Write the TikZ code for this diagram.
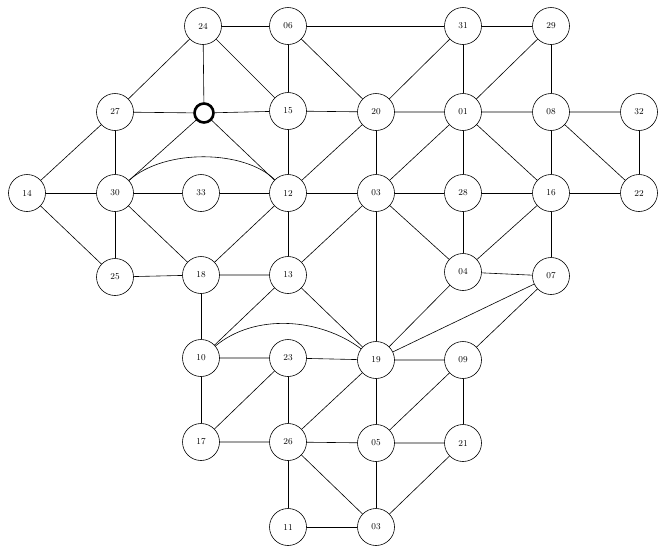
\documentclass[tikz,border=0pt]{standalone}
\begin{document}
\begin{tikzpicture}[x=1pt,y=-1pt,line width=0.6pt,
    vert/.style={draw,circle,minimum size=37pt,inner sep=0pt,font=\small},
    ring/.style={draw,circle,minimum size=19pt,inner sep=0pt,line width=2.6pt}]
    \useasboundingbox (0,0) rectangle (669,555);

    % Top row
    \node[vert] (n24) at (203,26) {24};
    \node[vert] (n06) at (288,26) {06};
    \node[vert] (n31) at (463,26) {31};
    \node[vert] (n29) at (551,26) {29};

    % Second row
    \node[vert] (n27) at (115,112) {27};
    \node[ring] (n00) at (204,113) {};
    \node[vert] (n15) at (288,111) {15};
    \node[vert] (n20) at (376,112) {20};
    \node[vert] (n01) at (463,112) {01};
    \node[vert] (n08) at (551,112) {08};
    \node[vert] (n32) at (639,112) {32};

    % Third row
    \node[vert] (n14) at (27,193) {14};
    \node[vert] (n30) at (115,193) {30};
    \node[vert] (n33) at (201,193) {33};
    \node[vert] (n12) at (288,193) {12};
    \node[vert] (n03) at (376,193) {03};
    \node[vert] (n28) at (463,193) {28};
    \node[vert] (n16) at (551,193) {16};
    \node[vert] (n22) at (639,193) {22};

    % Fourth row
    \node[vert] (n25) at (115,277) {25};
    \node[vert] (n18) at (201,275) {18};
    \node[vert] (n13) at (288,275) {13};
    \node[vert] (n04) at (463,272) {04};
    \node[vert] (n07) at (551,276) {07};

    % Fifth row
    \node[vert] (n10) at (201,358) {10};
    \node[vert] (n23) at (288,358) {23};
    \node[vert] (n19) at (376,360) {19};
    \node[vert] (n09) at (463,360) {09};

    % Sixth row
    \node[vert] (n17) at (201,442) {17};
    \node[vert] (n26) at (288,442) {26};
    \node[vert] (n05) at (376,443) {05};
    \node[vert] (n21) at (463,443) {21};

    % Bottom row
    \node[vert] (n11) at (288,527) {11};
    \node[vert] (n03b) at (376,527) {03};

    % Edges from the top
    \draw (n24) -- (n06) -- (n31) -- (n29);
    \draw (n24) -- (n27);
    \draw (n24) -- (n00);
    \draw (n24) -- (n15);
    \draw (n06) -- (n15);
    \draw (n06) -- (n20);
    \draw (n31) -- (n20);
    \draw (n31) -- (n01);
    \draw (n29) -- (n01);
    \draw (n29) -- (n08);

    % Edges from the second row
    \draw (n27) -- (n00) -- (n15) -- (n20) -- (n01) -- (n08) -- (n32);
    \draw (n27) -- (n14);
    \draw (n27) -- (n30);
    \draw (n00) -- (n30);
    \draw (n00) -- (n12);
    \draw (n15) -- (n12);
    \draw (n20) -- (n12);
    \draw (n20) -- (n03);
    \draw (n01) -- (n03);
    \draw (n01) -- (n28);
    \draw (n01) -- (n16);
    \draw (n08) -- (n16);
    \draw (n08) -- (n22);
    \draw (n32) -- (n22);

    % Edges from the third row
    \draw (n14) -- (n30) -- (n33) -- (n12) -- (n03) -- (n28) -- (n16) -- (n22);
    \draw (n30) .. controls (165,148) and (245,150) .. (n12);
    \draw (n14) -- (n25);
    \draw (n30) -- (n25);
    \draw (n30) -- (n18);
    \draw (n12) -- (n18);
    \draw (n12) -- (n13);
    \draw (n03) -- (n13);
    \draw (n03) -- (n19);
    \draw (n03) -- (n04);
    \draw (n28) -- (n04);
    \draw (n16) -- (n04);
    \draw (n16) -- (n07);

    % Edges from the fourth row
    \draw (n25) -- (n18) -- (n13);
    \draw (n04) -- (n07);
    \draw (n18) -- (n10);
    \draw (n13) -- (n10);
    \draw (n13) -- (n19);
    \draw (n04) -- (n19);
    \draw (n07) -- (n19);
    \draw (n07) -- (n09);

    % Edges from the fifth row
    \draw (n10) .. controls (255,313) and (320,318) .. (n19);
    \draw (n10) -- (n23) -- (n19) -- (n09);
    \draw (n10) -- (n17);
    \draw (n23) -- (n17);
    \draw (n23) -- (n26);
    \draw (n19) -- (n26);
    \draw (n19) -- (n05);
    \draw (n09) -- (n05);
    \draw (n09) -- (n21);

    % Edges from the bottom rows
    \draw (n17) -- (n26) -- (n05) -- (n21);
    \draw (n26) -- (n11);
    \draw (n26) -- (n03b);
    \draw (n05) -- (n03b);
    \draw (n21) -- (n03b);
    \draw (n11) -- (n03b);

\end{tikzpicture}
\end{document}
